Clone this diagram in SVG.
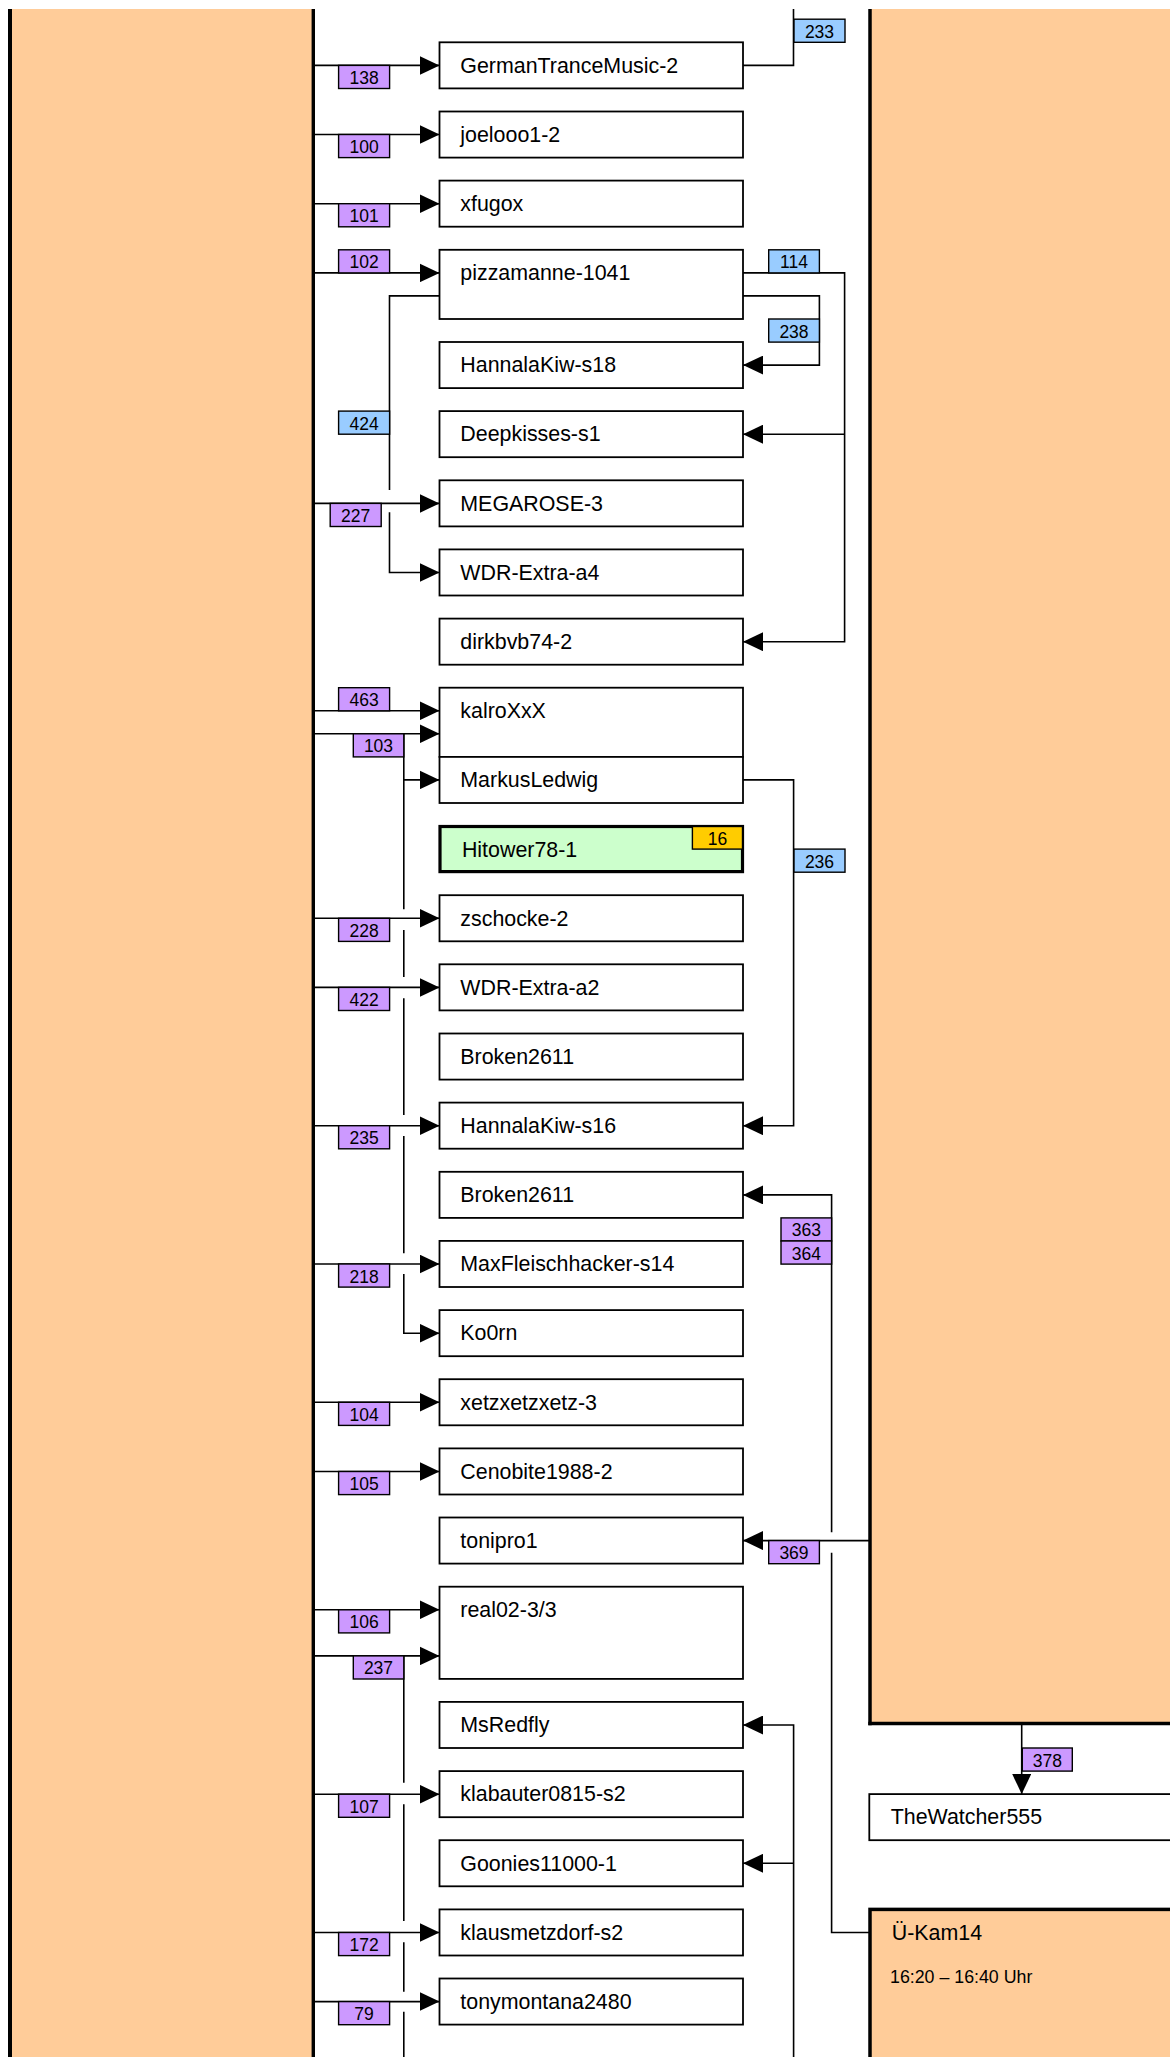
<svg xmlns="http://www.w3.org/2000/svg" width="1170" height="2057" viewBox="0 0 1170 2057">
<style>
.bg{fill:#ffcc99}
.edge{stroke:#000;fill:none}
.box{fill:#fff;stroke:#000;stroke-width:1.8}
.lbl{font-family:"Liberation Sans",Arial,sans-serif;font-size:21.4px;fill:#000}
.sm{font-family:"Liberation Sans",Arial,sans-serif;font-size:17.8px;fill:#000}
.c{fill:none;stroke:#000;stroke-width:1.6}
.ca{fill:none;stroke:#000;stroke-width:1.6;marker-end:url(#arr)}
.bp{fill:#cc99ff;stroke:#000;stroke-width:1.4}
.bb{fill:#99ccff;stroke:#000;stroke-width:1.4}
.bo{fill:#ffcc00;stroke:#000;stroke-width:1.4}
.bt{font-family:"Liberation Sans",Arial,sans-serif;font-size:17.5px;fill:#000;text-anchor:middle}
</style>
<defs>
<marker id="arr" markerUnits="userSpaceOnUse" markerWidth="20" markerHeight="19" refX="20" refY="9.5" orient="auto" viewBox="0 0 20 19">
<path d="M0,0 L20,9.5 L0,19 Z" fill="#000"/>
</marker>
</defs>
<rect width="1170" height="2057" fill="#fff"/>

<g id="lane-left">
<rect class="bg" x="10" y="9" width="303.3" height="2048"/>
<line class="edge" x1="10" y1="9" x2="10" y2="2057" stroke-width="4"/>
<line class="edge" x1="313.3" y1="9" x2="313.3" y2="2057" stroke-width="3.4"/>
</g>
<g id="lane-right">
<rect class="bg" x="870" y="9" width="300" height="1714.5"/>
<line class="edge" x1="870" y1="9" x2="870" y2="1725.2" stroke-width="3.5"/>
<line class="edge" x1="868.3" y1="1723.5" x2="1170" y2="1723.5" stroke-width="3.5"/>
</g>

<g id="connectors">
<path class="ca" d="M313,65.4 H439.5"/>
<path class="c" d="M743,65.4 H793.5 V9"/>
<path class="ca" d="M313,134.5 H439.5"/>
<path class="ca" d="M313,203.7 H439.5"/>
<path class="ca" d="M313,272.9 H439.5"/>
<path class="ca" d="M743,272.9 H844.6 V641.7 H743"/>
<path class="ca" d="M844.6,434.2 H743"/>
<path class="ca" d="M743,295.9 H819.4 V365.1 H743"/>
<path class="c" d="M439.5,295.9 H389.5 V490"/>
<path class="ca" d="M389.5,512.3 V572.5 H439.5"/>
<path class="ca" d="M313,503.4 H439.5"/>
<path class="ca" d="M313,710.8 H439.5"/>
<path class="ca" d="M313,733.8 H439.5"/>
<path class="ca" d="M403.8,779.9 H439.5"/>
<path class="c" d="M403.8,733.8 V909.3 M403.8,930 V977 M403.8,998.3 V1115 M403.8,1136 V1253.3"/>
<path class="ca" d="M403.8,1274 V1333.2 H439.5"/>
<path class="ca" d="M743,779.9 H793.6 V1125.7 H743"/>
<path class="ca" d="M313,918.3 H439.5"/>
<path class="ca" d="M313,987.4 H439.5"/>
<path class="ca" d="M313,1125.7 H439.5"/>
<path class="ca" d="M313,1264 H439.5"/>
<path class="c" d="M869,1932.5 H831.6 V1552.7"/>
<path class="ca" d="M831.6,1532.3 V1194.9 H743"/>
<path class="ca" d="M313,1402.3 H439.5"/>
<path class="ca" d="M313,1471.5 H439.5"/>
<path class="ca" d="M869,1540.6 H743"/>
<path class="ca" d="M313,1609.8 H439.5"/>
<path class="ca" d="M313,1655.9 H439.5"/>
<path class="c" d="M403.8,1655.9 V1782.7 M403.8,1804.3 V1921 M403.8,1942.3 V1991.7 M403.8,2011.7 V2057"/>
<path class="ca" d="M793.6,2057 V1725 H743"/>
<path class="ca" d="M793.6,1863.3 H743"/>
<path class="ca" d="M1021.7,1725 V1794.1"/>
<path class="ca" d="M313,1794.2 H439.5"/>
<path class="ca" d="M313,1932.5 H439.5"/>
<path class="ca" d="M313,2001.6 H439.5"/>

<g id="labels">
<rect class="bp" x="338.6" y="65.4" width="51" height="23.1"/><text class="bt" x="364.1" y="83.9">138</text>
<rect class="bb" x="794" y="19.2" width="51" height="23.1"/><text class="bt" x="819.5" y="37.7">233</text>
<rect class="bp" x="338.6" y="134.5" width="51" height="23.1"/><text class="bt" x="364.1" y="153">100</text>
<rect class="bp" x="338.6" y="203.7" width="51" height="23.1"/><text class="bt" x="364.1" y="222.2">101</text>
<rect class="bp" x="338.6" y="249.8" width="51" height="23.1"/><text class="bt" x="364.1" y="268.3">102</text>
<rect class="bb" x="768.7" y="249.8" width="50.7" height="23.1"/><text class="bt" x="794" y="268.3">114</text>
<rect class="bb" x="768.7" y="319" width="50.7" height="23.1"/><text class="bt" x="794" y="337.5">238</text>
<rect class="bb" x="338.6" y="411.1" width="51" height="23.1"/><text class="bt" x="364.1" y="429.6">424</text>
<rect class="bp" x="330.2" y="503.4" width="51" height="23.1"/><text class="bt" x="355.7" y="521.9">227</text>
<rect class="bp" x="338.6" y="687.7" width="51" height="23.1"/><text class="bt" x="364.1" y="706.2">463</text>
<rect class="bp" x="353.3" y="733.8" width="50.5" height="23.1"/><text class="bt" x="378.5" y="752.3">103</text>
<rect class="bb" x="794" y="849.1" width="51" height="23.1"/><text class="bt" x="819.5" y="867.6">236</text>
<rect class="bp" x="338.6" y="918.3" width="51" height="23.1"/><text class="bt" x="364.1" y="936.8">228</text>
<rect class="bp" x="338.6" y="987.4" width="51" height="23.1"/><text class="bt" x="364.1" y="1005.9">422</text>
<rect class="bp" x="338.6" y="1125.7" width="51" height="23.1"/><text class="bt" x="364.1" y="1144.2">235</text>
<rect class="bp" x="781" y="1217.9" width="50.6" height="23.1"/><text class="bt" x="806.3" y="1236.4">363</text>
<rect class="bp" x="781" y="1241" width="50.6" height="23.1"/><text class="bt" x="806.3" y="1259.5">364</text>
<rect class="bp" x="338.6" y="1264" width="51" height="23.1"/><text class="bt" x="364.1" y="1282.5">218</text>
<rect class="bp" x="338.6" y="1402.3" width="51" height="23.1"/><text class="bt" x="364.1" y="1420.8">104</text>
<rect class="bp" x="338.6" y="1471.5" width="51" height="23.1"/><text class="bt" x="364.1" y="1490">105</text>
<rect class="bp" x="768.7" y="1540.6" width="50.7" height="23.1"/><text class="bt" x="794" y="1559.1">369</text>
<rect class="bp" x="338.6" y="1609.8" width="51" height="23.1"/><text class="bt" x="364.1" y="1628.3">106</text>
<rect class="bp" x="353.3" y="1655.9" width="50.5" height="23.1"/><text class="bt" x="378.5" y="1674.4">237</text>
<rect class="bp" x="1022.3" y="1748" width="50" height="23.1"/><text class="bt" x="1047.3" y="1766.5">378</text>
<rect class="bp" x="338.6" y="1794.2" width="51" height="23.1"/><text class="bt" x="364.1" y="1812.7">107</text>
<rect class="bp" x="338.6" y="1932.5" width="51" height="23.1"/><text class="bt" x="364.1" y="1951">172</text>
<rect class="bp" x="338.6" y="2001.6" width="51" height="23.1"/><text class="bt" x="364.1" y="2020.1">79</text>
</g>
</g>

<g id="n-GermanTranceMusic-2"><rect class="box" x="439.5" y="42.3" width="303.5" height="46.1"/><text class="lbl" x="460.3" y="72.6">GermanTranceMusic-2</text></g>
<g id="n-joelooo1-2"><rect class="box" x="439.5" y="111.5" width="303.5" height="46.1"/><text class="lbl" x="460.3" y="141.8">joelooo1-2</text></g>
<g id="n-xfugox"><rect class="box" x="439.5" y="180.6" width="303.5" height="46.1"/><text class="lbl" x="460.3" y="210.9">xfugox</text></g>
<g id="n-pizzamanne-1041"><rect class="box" x="439.5" y="249.8" width="303.5" height="69.2"/><text class="lbl" x="460.3" y="280.1">pizzamanne-1041</text></g>
<g id="n-HannalaKiw-s18"><rect class="box" x="439.5" y="342" width="303.5" height="46.1"/><text class="lbl" x="460.3" y="372.3">HannalaKiw-s18</text></g>
<g id="n-Deepkisses-s1"><rect class="box" x="439.5" y="411.1" width="303.5" height="46.1"/><text class="lbl" x="460.3" y="441.4">Deepkisses-s1</text></g>
<g id="n-MEGAROSE-3"><rect class="box" x="439.5" y="480.3" width="303.5" height="46.1"/><text class="lbl" x="460.3" y="510.6">MEGAROSE-3</text></g>
<g id="n-WDR-Extra-a4"><rect class="box" x="439.5" y="549.4" width="303.5" height="46.1"/><text class="lbl" x="460.3" y="579.7">WDR-Extra-a4</text></g>
<g id="n-dirkbvb74-2"><rect class="box" x="439.5" y="618.6" width="303.5" height="46.1"/><text class="lbl" x="460.3" y="648.9">dirkbvb74-2</text></g>
<g id="n-kalroXxX"><rect class="box" x="439.5" y="687.7" width="303.5" height="69.2"/><text class="lbl" x="460.3" y="718">kalroXxX</text></g>
<g id="n-MarkusLedwig"><rect class="box" x="439.5" y="756.9" width="303.5" height="46.1"/><text class="lbl" x="460.3" y="787.2">MarkusLedwig</text></g>
<g id="n-Hitower78-1"><rect x="440" y="826.5" width="302.5" height="45.1" fill="#ccffcc" stroke="#000" stroke-width="3.2"/><rect class="bo" x="692.4" y="826.5" width="50.1" height="22.6"/><text class="bt" x="717.5" y="844.6">16</text><text class="lbl" x="461.9" y="857.4">Hitower78-1</text></g>
<g id="n-zschocke-2"><rect class="box" x="439.5" y="895.2" width="303.5" height="46.1"/><text class="lbl" x="460.3" y="925.5">zschocke-2</text></g>
<g id="n-WDR-Extra-a2"><rect class="box" x="439.5" y="964.3" width="303.5" height="46.1"/><text class="lbl" x="460.3" y="994.6">WDR-Extra-a2</text></g>
<g id="n-Broken2611-a"><rect class="box" x="439.5" y="1033.5" width="303.5" height="46.1"/><text class="lbl" x="460.3" y="1063.8">Broken2611</text></g>
<g id="n-HannalaKiw-s16"><rect class="box" x="439.5" y="1102.6" width="303.5" height="46.1"/><text class="lbl" x="460.3" y="1132.9">HannalaKiw-s16</text></g>
<g id="n-Broken2611-b"><rect class="box" x="439.5" y="1171.8" width="303.5" height="46.1"/><text class="lbl" x="460.3" y="1202.1">Broken2611</text></g>
<g id="n-MaxFleischhacker-s14"><rect class="box" x="439.5" y="1240.9" width="303.5" height="46.1"/><text class="lbl" x="460.3" y="1271.2">MaxFleischhacker-s14</text></g>
<g id="n-Ko0rn"><rect class="box" x="439.5" y="1310.1" width="303.5" height="46.1"/><text class="lbl" x="460.3" y="1340.4">Ko0rn</text></g>
<g id="n-xetzxetzxetz-3"><rect class="box" x="439.5" y="1379.2" width="303.5" height="46.1"/><text class="lbl" x="460.3" y="1409.5">xetzxetzxetz-3</text></g>
<g id="n-Cenobite1988-2"><rect class="box" x="439.5" y="1448.4" width="303.5" height="46.1"/><text class="lbl" x="460.3" y="1478.7">Cenobite1988-2</text></g>
<g id="n-tonipro1"><rect class="box" x="439.5" y="1517.5" width="303.5" height="46.1"/><text class="lbl" x="460.3" y="1547.8">tonipro1</text></g>
<g id="n-real02-3-3"><rect class="box" x="439.5" y="1586.7" width="303.5" height="92.2"/><text class="lbl" x="460.3" y="1617">real02-3/3</text></g>
<g id="n-MsRedfly"><rect class="box" x="439.5" y="1701.9" width="303.5" height="46.1"/><text class="lbl" x="460.3" y="1732.2">MsRedfly</text></g>
<g id="n-klabauter0815-s2"><rect class="box" x="439.5" y="1771.1" width="303.5" height="46.1"/><text class="lbl" x="460.3" y="1801.4">klabauter0815-s2</text></g>
<g id="n-Goonies11000-1"><rect class="box" x="439.5" y="1840.2" width="303.5" height="46.1"/><text class="lbl" x="460.3" y="1870.5">Goonies11000-1</text></g>
<g id="n-klausmetzdorf-s2"><rect class="box" x="439.5" y="1909.4" width="303.5" height="46.1"/><text class="lbl" x="460.3" y="1939.7">klausmetzdorf-s2</text></g>
<g id="n-tonymontana2480"><rect class="box" x="439.5" y="1978.5" width="303.5" height="46.1"/><text class="lbl" x="460.3" y="2008.8">tonymontana2480</text></g>
<g id="n-TheWatcher555"><rect class="box" x="869.3" y="1794.1" width="320" height="46.1"/><text class="lbl" x="890.7" y="1824.4">TheWatcher555</text></g>
<g id="n-U-Kam14"><rect x="870" y="1909.4" width="320" height="200" fill="#ffcc99" stroke="#000" stroke-width="3.5"/><text class="lbl" x="891.7" y="1940">Ü-Kam14</text><text class="sm" x="890" y="1982.7">16:20 – 16:40 Uhr</text></g>
</svg>
